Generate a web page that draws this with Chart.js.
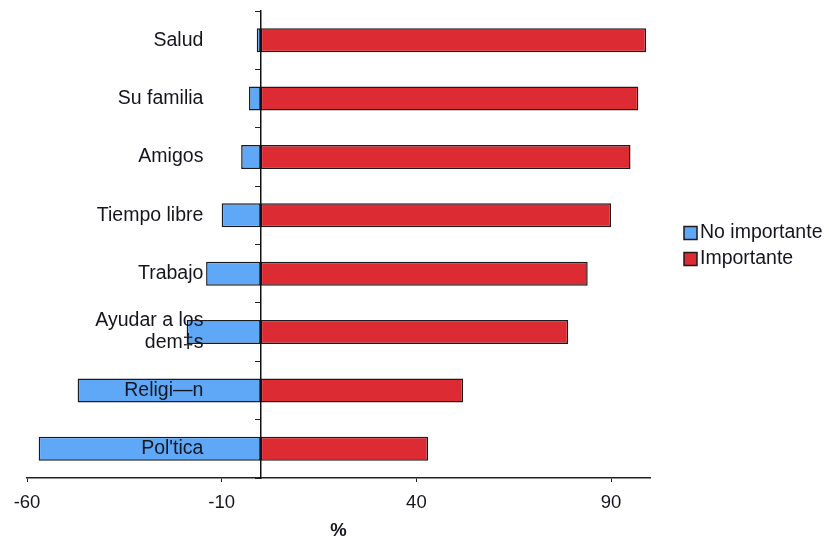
<!DOCTYPE html>
<html>
<head>
<meta charset="utf-8">
<title>Importancia</title>
<script src="https://cdn.jsdelivr.net/npm/chart.js@4/dist/chart.umd.min.js"></script>
<style>
  html, body { margin: 0; padding: 0; background: #fff; overflow: hidden; }
  #wrap { position: relative; width: 829px; height: 537px; }
</style>
</head>
<body>
<div id="wrap"><canvas id="c"></canvas></div>
<script>
// Categories, top to bottom
const categories = [
  'Salud',
  'Su familia',
  'Amigos',
  'Tiempo libre',
  'Trabajo',
  ['Ayudar a los', 'dem\u2021s'],
  'Religi\u2014n',
  "Pol'tica"
];

// Share answering "no importante" (drawn to the left of zero)
const noImportante = [-1, -3, -5, -10, -14, -19, -47, -57];

// Share answering "importante"
const importante = [99, 97, 95, 90, 84, 79, 52, 43];

// Value-axis tick labels
const xTickValues = [-60, -10, 40, 90];

const textColor = '#15151f';
const fontFamily = '"Liberation Sans", Arial, Helvetica, sans-serif';

// Legend drawn to the right of the plot, one row per dataset
const sideLegend = {
  id: 'sideLegend',
  afterDraw(chart, args, opts) {
    const { ctx, chartArea } = chart;
    const sets = chart.data.datasets;
    const x0 = chartArea.right + opts.offsetX;
    const yMid = (chartArea.top + chartArea.bottom) / 2 + opts.offsetY;
    ctx.save();
    ctx.font = opts.fontSize + 'px ' + fontFamily;
    ctx.textBaseline = 'middle';
    ctx.textAlign = 'left';
    sets.forEach((ds, i) => {
      const y = yMid + (i - (sets.length - 1) / 2) * opts.rowGap;
      ctx.fillStyle = ds.backgroundColor;
      ctx.fillRect(x0, y - opts.box / 2, opts.box, opts.box);
      ctx.lineWidth = 1.5;
      ctx.strokeStyle = ds.borderColor;
      ctx.strokeRect(x0, y - opts.box / 2, opts.box, opts.box);
      ctx.fillStyle = opts.color;
      ctx.fillText(ds.label, x0 + opts.box + opts.gap, y);
    });
    ctx.restore();
  }
};

new Chart(document.getElementById('c'), {
  type: 'bar',
  data: {
    labels: categories,
    datasets: [
      {
        label: 'No importante',
        data: noImportante,
        backgroundColor: '#5ea8f7',
        borderColor: '#1b1b1b',
        borderWidth: 1.5,
        borderSkipped: false
      },
      {
        label: 'Importante',
        data: importante,
        backgroundColor: '#dd2b34',
        borderColor: '#1b1b1b',
        borderWidth: 1.5,
        borderSkipped: false
      }
    ]
  },
  options: {
    indexAxis: 'y',
    responsive: true,
    maintainAspectRatio: false,
    animation: false,
    layout: { padding: { top: 10, left: 27, right: 179, bottom: 0 } },
    datasets: {
      bar: { categoryPercentage: 1, barPercentage: 0.41 }
    },
    scales: {
      x: {
        stacked: true,
        min: -60,
        max: 100,
        afterBuildTicks(scale) {
          scale.ticks = xTickValues.map(v => ({ value: v }));
        },
        grid: {
          drawOnChartArea: false,
          drawTicks: true,
          tickLength: 4,
          color: '#222'
        },
        border: { display: true, color: '#222', width: 1.5 },
        ticks: {
          padding: 10,
          color: textColor,
          font: { family: fontFamily, size: 18.5 },
          maxRotation: 0
        },
        title: {
          display: true,
          text: '%',
          color: textColor,
          font: { family: fontFamily, size: 18.5, weight: 'bold' },
          padding: { top: -4.8, bottom: -4.6 }
        }
      },
      // Zero line with category tick marks
      y: {
        stacked: true,
        offset: true,
        position: { x: 0 },
        grid: {
          offset: true,
          drawOnChartArea: false,
          drawTicks: true,
          tickLength: 5,
          color: '#222'
        },
        border: { display: true, color: '#111', width: 1.5, z: 1 },
        ticks: { display: false }
      },
      // Category names, right-aligned a little left of zero, drawn above the bars
      yLabels: {
        type: 'category',
        axis: 'y',
        offset: true,
        position: { x: -14.7 },
        grid: { display: false, drawTicks: false },
        border: { display: false },
        ticks: {
          z: 1,
          padding: 0,
          color: textColor,
          font: { family: fontFamily, size: 19.5, lineHeight: 1.13 }
        }
      }
    },
    plugins: {
      legend: { display: false },
      tooltip: { enabled: false },
      sideLegend: {
        offsetX: 34,
        offsetY: 1.5,
        rowGap: 26,
        box: 13,
        gap: 3,
        fontSize: 19.5,
        color: textColor
      }
    }
  },
  plugins: [sideLegend]
});
</script>
</body>
</html>
